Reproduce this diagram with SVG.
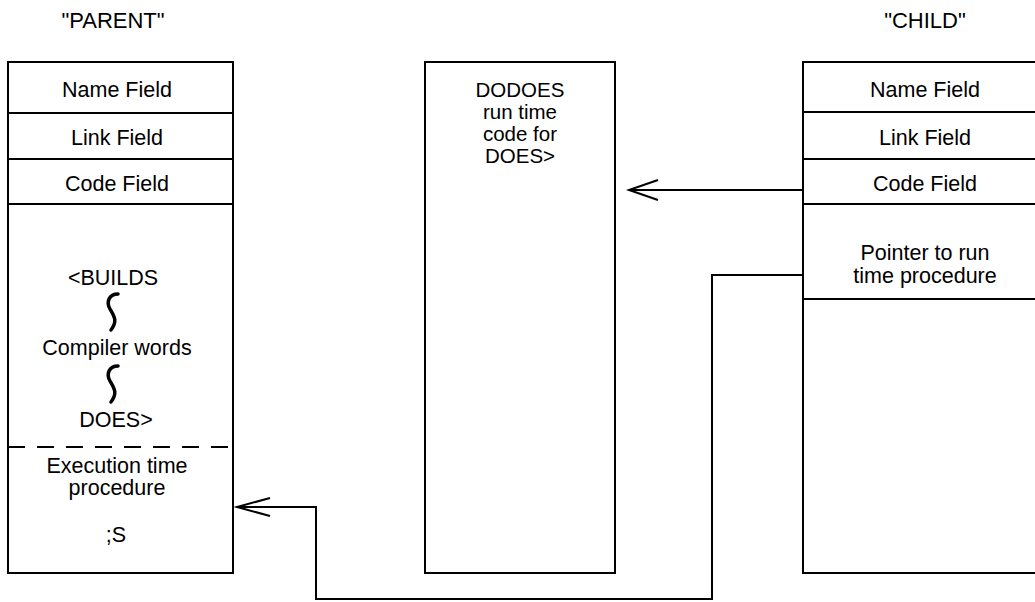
<svg xmlns="http://www.w3.org/2000/svg" width="1035" height="602" viewBox="0 0 1035 602">
<style>
.box{fill:none;stroke:#000;stroke-width:2}
.div{stroke:#000;stroke-width:2}
.conn{fill:none;stroke:#000;stroke-width:2}
.t{font-family:"Liberation Sans",Arial,sans-serif;font-size:21.5px;fill:#000;text-anchor:middle}
.m{font-size:20.5px}
.h{font-family:"Liberation Sans",Arial,sans-serif;font-size:22px;fill:#000;text-anchor:middle}
.sq{fill:none;stroke:#000;stroke-width:3.5;stroke-linecap:round}
</style>
<defs>
<path id="squig" d="M5,-18 C-4,-18 -7,-10 -3,-3 C1,4 5,9 -2,18" class="sq"/>
</defs>
<rect width="1035" height="602" fill="#fff"/>
<text class="h" x="113" y="28">"PARENT"</text>
<text class="h" x="925" y="28">"CHILD"</text>
<g id="parent">
<rect class="box" x="8" y="62" width="225" height="511"/>
<line class="div" x1="8" y1="113" x2="233" y2="113"/>
<line class="div" x1="8" y1="159" x2="233" y2="159"/>
<line class="div" x1="8" y1="204" x2="233" y2="204"/>
<line class="div" x1="8" y1="447" x2="233" y2="447" stroke-dasharray="17 12"/>
<text class="t" x="117" y="97">Name Field</text>
<text class="t" x="117" y="145">Link Field</text>
<text class="t" x="117" y="191">Code Field</text>
<text class="t" x="113" y="285">&lt;BUILDS</text>
<use href="#squig" x="113" y="312"/>
<text class="t" x="117" y="355">Compiler words</text>
<use href="#squig" x="113" y="384"/>
<text class="t" x="116" y="427">DOES&gt;</text>
<text class="t" x="117" y="473">Execution time</text>
<text class="t" x="117" y="495">procedure</text>
<text class="t" x="116" y="542">;S</text>
</g>
<g id="dodoes">
<rect class="box" x="425" y="62" width="190" height="511"/>
<text class="t m" x="520" y="97">DODOES</text>
<text class="t m" x="520" y="119">run time</text>
<text class="t m" x="520" y="141">code for</text>
<text class="t m" x="520" y="163">DOES&gt;</text>
</g>
<g id="child">
<path class="box" d="M1036,62 H803 V573 H1036"/>
<line class="div" x1="803" y1="112" x2="1036" y2="112"/>
<line class="div" x1="803" y1="159" x2="1036" y2="159"/>
<line class="div" x1="803" y1="204" x2="1036" y2="204"/>
<line class="div" x1="803" y1="299" x2="1036" y2="299"/>
<text class="t" x="925" y="97">Name Field</text>
<text class="t" x="925" y="145">Link Field</text>
<text class="t" x="925" y="191">Code Field</text>
<text class="t" x="925" y="260">Pointer to run</text>
<text class="t" x="925" y="283">time procedure</text>
</g>
<g id="connectors">
<path class="conn" d="M803,190 H629"/>
<path class="conn" d="M658,180 L629,190 L658,200"/>
<path class="conn" d="M803,275 H712 V599 H316 V507 H237"/>
<path class="conn" d="M270,498 L237,507 L270,516"/>
</g>
</svg>
